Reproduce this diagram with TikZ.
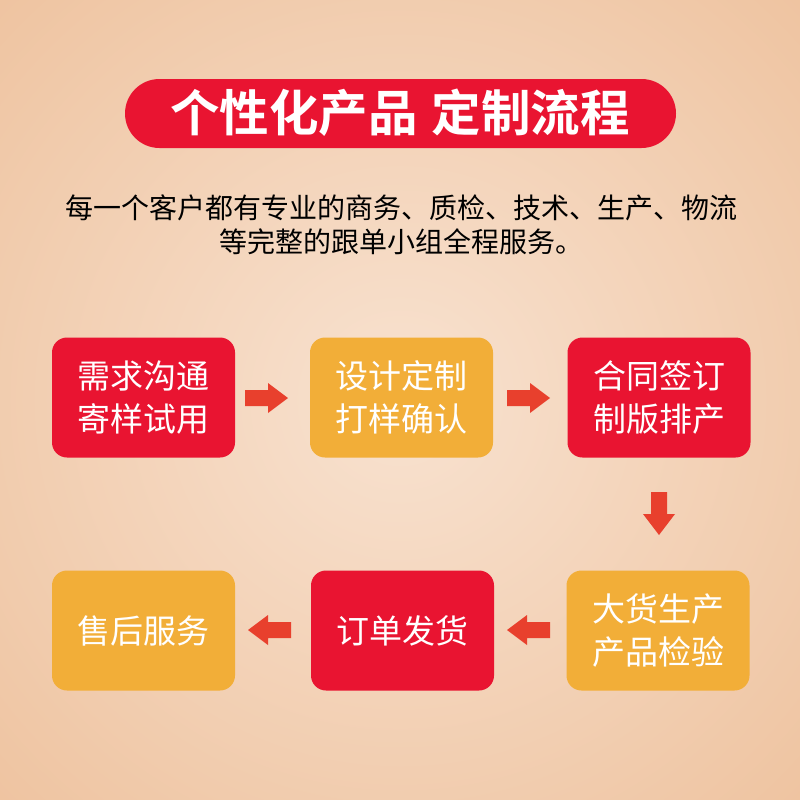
\documentclass[tikz,border=0pt]{standalone}
\usepackage{fontspec}
\newfontfamily\cjk{Noto Sans CJK SC}
\newfontfamily\cjkb{Noto Sans CJK SC Bold}
\definecolor{bgout}{HTML}{EEC29E}
\definecolor{bgin}{HTML}{F8E2D0}
\definecolor{cred}{HTML}{E91431}
\definecolor{cyel}{HTML}{F2AE38}
\definecolor{carr}{HTML}{E8402D}
\tikzset{
  stepbox/.style={rounded corners=15pt, minimum width=183pt, minimum height=120pt, inner sep=0pt, text=white, align=center, font=\cjk\fontsize{33}{43}\selectfont},
  redbox/.style={stepbox, fill=cred},
  yelbox/.style={stepbox, fill=cyel},
}
\newcommand{\rarrow}[2]{% tip x, y
  \fill[carr] (#1-43,#2-8) -- (#1-20,#2-8) -- (#1-20,#2-15) -- (#1,#2) -- (#1-20,#2+15) -- (#1-20,#2+8) -- (#1-43,#2+8) -- cycle;}
\newcommand{\larrow}[2]{%
  \fill[carr] (#1+43,#2-8) -- (#1+20,#2-8) -- (#1+20,#2-15) -- (#1,#2) -- (#1+20,#2+15) -- (#1+20,#2+8) -- (#1+43,#2+8) -- cycle;}
\begin{document}
\begin{tikzpicture}[x=1pt,y=-1pt]
\useasboundingbox (0,0) rectangle (800,800);
\shade[inner color=bgin, outer color=bgout] (-200,-200) rectangle (1000,1000);
\clip (0,0) rectangle (800,800);
% title
\node[fill=cred, rounded corners=34.5pt, minimum width=551pt, minimum height=69pt, inner sep=0pt] (title) at (400.5,113.5) {};
\node[text=white, font=\cjkb\fontsize{49.5}{50}\selectfont] (tt) at (400,113) {个性化产品\hspace{14pt}定制流程};
% subtitle
\node[align=center, text=black, font=\cjk\fontsize{28}{34}\selectfont] (sub) at (401,225) {每一个客户都有专业的商务、质检、技术、生产、物流\\等完整的跟单小组全程服务。};
% boxes
\node[redbox] (b1) at (143.5,397.5) {需求沟通\\寄样试用};
\node[yelbox] (b2) at (401.5,397.5) {设计定制\\打样确认};
\node[redbox] (b3) at (659,397.5) {合同签订\\制版排产};
\node[yelbox] (b6) at (658,630.5) {大货生产\\产品检验};
\node[redbox] (b5) at (402.5,630.5) {订单发货};
\node[yelbox] (b4) at (143.5,630.5) {售后服务};
% arrows
\rarrow{288}{398}
\rarrow{550}{398}
\larrow{248}{630}
\larrow{507}{630}
\fill[carr] (651,492) -- (667,492) -- (667,514) -- (675,514) -- (659,535) -- (643,514) -- (651,514) -- cycle;
\end{tikzpicture}
\end{document}
